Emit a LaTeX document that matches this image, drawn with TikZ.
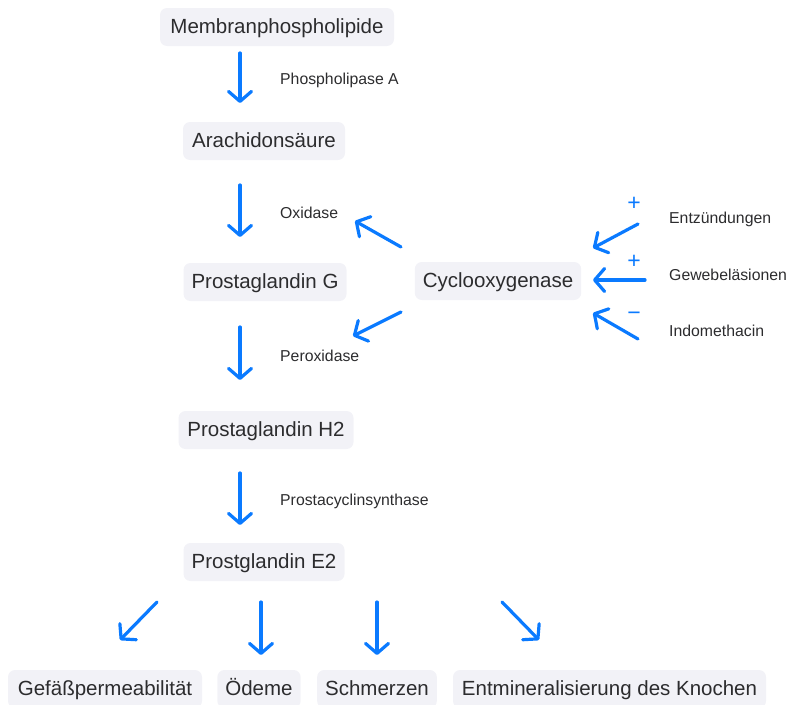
\documentclass[tikz,border=0pt]{standalone}
\usepackage{fontspec}
\setmainfont{Liberation Sans}
\usetikzlibrary{arrows.meta}
\definecolor{arrowblue}{RGB}{10,122,255}
\definecolor{boxfill}{RGB}{242,242,247}
\definecolor{txt}{RGB}{44,44,46}
\tikzset{
  box/.style={fill=boxfill, rounded corners=7pt, minimum height=38pt, inner xsep=8pt, inner ysep=0pt, text height=15.5pt, text depth=3pt, text=txt, font=\fontsize{20.5}{23}\selectfont},
  lbl/.style={anchor=west, inner sep=0pt, text=txt, font=\fontsize{15.8}{18}\selectfont},
  sign/.style={inner sep=0pt, text=arrowblue, font=\fontsize{23}{25}\selectfont},
  flow/.style={draw=arrowblue, line width=3.2pt, line cap=round, -{Straight Barb[length=10pt,width=23pt,round,line width=3.2pt]}}
}
\begin{document}
\begin{tikzpicture}[x=1pt,y=-1pt]
\useasboundingbox (0,0) rectangle (786,704);
\begin{scope}
\clip (0,0) rectangle (786,704);
% boxes
\node[box, minimum width=234pt] (mem) at (277,27) {Membranphospholipide};
\node[box, minimum width=162pt] (ara) at (264,141) {Arachidonsäure};
\node[box, minimum width=163pt] (pgg) at (265,282) {Prostaglandin G};
\node[box, minimum width=166pt] (cox) at (498,281) {Cyclooxygenase};
\node[box, minimum width=175pt] (pgh) at (266,430) {Prostaglandin H2};
\node[box, minimum width=161pt] (pge) at (264,562) {Prostglandin E2};
\node[box, minimum width=194pt] (gef) at (105,689) {Gefäßpermeabilität};
\node[box, minimum width=82pt] (oed) at (259,689) {Ödeme};
\node[box, minimum width=118pt] (sch) at (377,689) {Schmerzen};
\node[box, minimum width=313pt] (ent) at (609.5,689) {Entmineralisierung des Knochen};
\end{scope}
% labels
\node[lbl] (lpla) at (280,80) {Phospholipase A};
\node[lbl] (loxi) at (280,213) {Oxidase};
\node[lbl] (lper) at (280,356) {Peroxidase};
\node[lbl] (lpcs) at (280,501) {Prostacyclinsynthase};
\node[lbl] (lent) at (669,219) {Entzündungen};
\node[lbl] (lgew) at (669,275) {Gewebeläsionen};
\node[lbl] (lind) at (669,331) {Indomethacin};
\node[sign] (s1) at (634,204) {+};
\node[sign] (s2) at (634,262) {+};
\node[sign] (s3) at (634,316) {\textminus};
% arrow end points
\coordinate (a1s) at (240,53); \coordinate (a1e) at (240,103);
\coordinate (a2s) at (240,185); \coordinate (a2e) at (240,237);
\coordinate (a3s) at (240,327); \coordinate (a3e) at (240,380);
\coordinate (a4s) at (240,473); \coordinate (a4e) at (240,525);
\coordinate (oxs) at (401,247); \coordinate (oxe) at (355,221);
\coordinate (pxs) at (401,312); \coordinate (pxe) at (353,336);
\coordinate (ens) at (638,224); \coordinate (ene) at (593,248);
\coordinate (gws) at (645,280); \coordinate (gwe) at (593,280);
\coordinate (ins) at (638,339); \coordinate (ine) at (593,313);
\coordinate (b1s) at (157,602); \coordinate (b1e) at (120,640);
\coordinate (b2s) at (261,602); \coordinate (b2e) at (261,655);
\coordinate (b3s) at (377,602); \coordinate (b3e) at (377,655);
\coordinate (b4s) at (502,602); \coordinate (b4e) at (539,640);
\foreach \a in {a1,a2,a3,a4,ox,px,en,gw,in,b1,b2,b3,b4}
  \draw[flow] (\a s) -- (\a e);
\end{tikzpicture}
\end{document}
